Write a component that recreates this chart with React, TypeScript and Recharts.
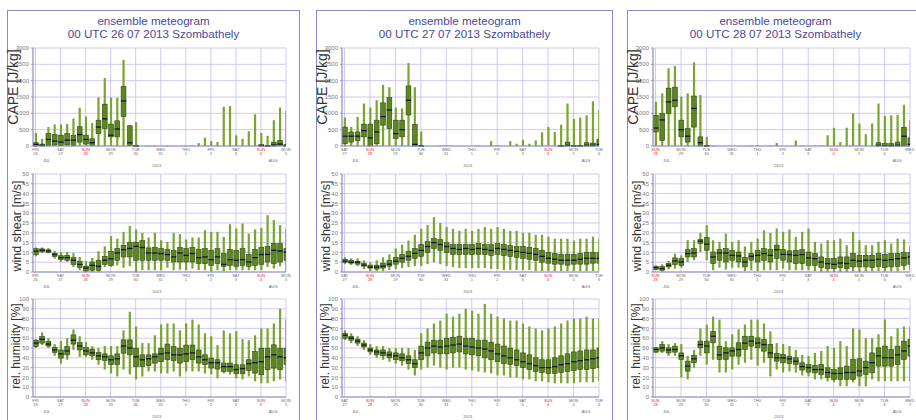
import { ComposedChart, Bar, XAxis, YAxis, CartesianGrid } from 'recharts';

// one box per 6-hourly step: [min, q1, median, q3, max]
type Box = [number, number, number, number, number];

const TITLE = 'ensemble meteogram';
const RUNS = ['00 UTC 26 07 2013 Szombathely', '00 UTC 27 07 2013 Szombathely', '00 UTC 28 07 2013 Szombathely'];

const DAY_STEPS = [0, 4, 8, 12, 16, 20, 24, 28, 32, 36, 40];
const WEEKDAYS_26 = ['FRI', 'SAT', 'SUN', 'MON', 'TUE', 'WED', 'THU', 'FRI', 'SAT', 'SUN', 'MON'];
const DATES_26 = ['26', '27', '28', '29', '30', '31', '1', '2', '3', '4', '5'];
const WEEKDAYS_27 = ['SAT', 'SUN', 'MON', 'TUE', 'WED', 'THU', 'FRI', 'SAT', 'SUN', 'MON', 'TUE'];
const DATES_27 = ['27', '28', '29', '30', '31', '1', '2', '3', '4', '5', '6'];
const WEEKDAYS_28 = ['SUN', 'MON', 'TUE', 'WED', 'THU', 'FRI', 'SAT', 'SUN', 'MON', 'TUE', 'WED'];
const DATES_28 = ['28', '29', '30', '31', '1', '2', '3', '4', '5', '6', '7'];

const CAPE_TICKS = [0, 500, 1000, 1500, 2000, 2500, 3000];
const WIND_TICKS = [0, 5, 10, 15, 20, 25, 30, 35, 40, 45, 50];
const RH_TICKS = [0, 10, 20, 30, 40, 50, 60, 70, 80, 90, 100];

const cape26: Box[] = [
  [0, 0, 50, 100, 400], [0, 0, 20, 60, 220], [0, 20, 200, 380, 580], [0, 30, 150, 350, 660],
  [0, 20, 120, 330, 660], [0, 30, 180, 380, 670], [0, 20, 180, 330, 840], [0, 120, 350, 590, 1170],
  [0, 60, 200, 330, 900], [0, 20, 100, 220, 700], [0, 380, 580, 790, 1490], [0, 530, 830, 1280, 2080],
  [0, 280, 330, 670, 1480], [0, 280, 520, 770, 1480], [0, 900, 1380, 1820, 2640], [0, 20, 100, 620, 640],
  [0, 0, 0, 20, 730], [0, 0, 0, 0, 0], [0, 0, 0, 0, 10], [0, 0, 0, 0, 10],
  [0, 0, 0, 0, 0], [0, 0, 0, 0, 10], [0, 0, 0, 0, 0], [0, 0, 0, 0, 0],
  [0, 0, 0, 0, 10], [0, 0, 0, 0, 20], [0, 0, 0, 0, 90], [0, 0, 0, 0, 250],
  [0, 0, 0, 0, 150], [0, 0, 0, 0, 120], [0, 0, 0, 0, 1200], [0, 0, 0, 0, 1220],
  [0, 0, 0, 0, 330], [0, 0, 0, 0, 220], [0, 0, 0, 0, 450], [0, 0, 0, 0, 970],
  [0, 0, 10, 40, 400], [0, 0, 0, 10, 310], [0, 0, 30, 120, 790], [0, 10, 60, 170, 1180],
  [0, 0, 0, 50, 1070],
];

const wind26: Box[] = [
  [8, 9, 10.6, 11.9, 12.5], [9.7, 10.3, 11.1, 11.8, 12.5], [9.5, 10, 10.7, 11.3, 12.2], [6.8, 8, 8.9, 9.6, 10.8],
  [5.1, 6.3, 7.3, 8.3, 10.2], [5.1, 6, 7.3, 8.5, 10.2], [2.6, 3.9, 6, 7.3, 9.7], [0.9, 2.2, 3.9, 5.5, 7.7],
  [0, 0.5, 2, 3, 5.5], [0, 0.9, 3.4, 5.1, 7.2], [0, 0.9, 2.9, 6, 10.6], [2.6, 3.9, 6, 8, 13.1],
  [2.6, 3.4, 6.7, 10.6, 18.3], [3.4, 6, 9.7, 11.9, 17], [2.2, 7.7, 11.4, 13.6, 20.5], [3, 7.7, 12, 15.2, 23.4],
  [0, 6, 13.1, 15.2, 21.7], [0.9, 6, 12.5, 16, 20], [0.9, 6, 9.7, 12.3, 17.6], [0.9, 6, 9.7, 12.5, 20],
  [0.9, 6, 9.4, 12, 16.2], [2.2, 6, 8.9, 11.4, 15.4], [0.9, 5.1, 7.7, 11.1, 20], [1.2, 5.1, 9.7, 12.5, 19.3],
  [0.9, 5.1, 8.5, 12, 16.6], [1.7, 5.1, 9.4, 12.5, 17.6], [0.9, 4.3, 7.3, 11.4, 17.6], [0.9, 4.3, 7.7, 11.9, 21.3],
  [0.3, 3.4, 6.3, 11.1, 20.5], [0.9, 4.3, 7.7, 11.9, 20.5], [0.3, 2.9, 3.9, 9.4, 17.9], [0.9, 3.4, 6.3, 11.4, 24.4],
  [0.9, 2.9, 6, 11.1, 22.2], [0.9, 3.4, 6.3, 11.9, 24.7], [0.9, 2.9, 5.1, 8.9, 19.6], [0.9, 3.4, 7.3, 11.4, 21.7],
  [0.9, 3.9, 8.9, 12.5, 22.5], [2.6, 5.1, 9, 13.1, 29], [1.7, 4.3, 11.1, 14.5, 26.5], [2.9, 5.1, 10.7, 14.5, 23.9],
  [0, 6, 10.2, 12, 22],
];

const rh26: Box[] = [
  [50, 51.5, 55, 58, 59], [53, 55, 59, 61.7, 66], [50, 52, 54, 56.6, 60], [42, 45.4, 48, 50.5, 54],
  [34, 39.7, 44, 48, 57], [38, 43, 47, 51.5, 60], [48, 54, 58, 63.4, 69], [41, 48, 52, 55.6, 62],
  [41, 43, 47, 50.5, 56], [38, 42, 45, 48.8, 52], [33, 38, 42, 45.4, 50], [28, 37.3, 41, 44, 52],
  [24, 33, 38, 42, 52], [21, 33, 39, 44, 52], [28, 44.7, 52, 58.3, 68], [23, 43, 50, 58.3, 87],
  [18, 31, 41, 49.8, 72], [21, 31, 38, 43, 55], [26, 32, 39, 43, 55], [26, 34.6, 41, 44, 63],
  [24, 36, 44, 49.8, 74], [24, 38, 45, 54, 75], [26, 37, 43, 51.5, 75], [21, 34.6, 43, 49.8, 68],
  [26, 36, 44, 53, 75], [26, 38, 45, 53, 79], [26, 34.6, 41, 48, 74], [24, 33, 38, 43, 65],
  [23, 29.5, 35, 39.7, 62], [19, 28.5, 35, 38, 53], [24, 26, 31, 34.6, 68], [23, 26, 31, 34.6, 65],
  [19, 23.7, 28, 32.9, 67], [18, 23.7, 29, 32.9, 59], [21, 27, 34, 38, 58], [16, 24.4, 35, 46.4, 63],
  [14, 22.7, 36, 49.8, 70], [14, 27.8, 41, 49.8, 70], [16, 29.5, 43, 53.2, 75], [18, 27.8, 41, 49.8, 90],
  [16, 33, 40, 49.8, 79],
];

const cape27: Box[] = [
  [0, 70, 300, 580, 870], [0, 120, 300, 430, 585], [0, 170, 300, 430, 890], [0, 280, 470, 670, 1300],
  [0, 0, 250, 670, 1180], [0, 70, 430, 790, 1400], [0, 640, 900, 1320, 1870], [0, 530, 1100, 1480, 1800],
  [0, 225, 380, 790, 1180], [0, 280, 500, 790, 1150], [0, 950, 1400, 1840, 2540], [0, 0, 50, 660, 1800],
  [0, 0, 0, 20, 440], [0, 0, 0, 0, 0], [0, 0, 0, 0, 0], [0, 0, 0, 0, 15],
  [0, 0, 0, 0, 20], [0, 0, 0, 0, 0], [0, 0, 0, 0, 0], [0, 0, 0, 0, 0],
  [0, 0, 0, 0, 0], [0, 0, 0, 0, 10], [0, 0, 0, 0, 0], [0, 0, 0, 0, 150],
  [0, 0, 0, 0, 20], [0, 0, 0, 0, 0], [0, 0, 0, 0, 150], [0, 0, 0, 0, 70],
  [0, 0, 0, 0, 190], [0, 0, 0, 0, 70], [0, 0, 0, 0, 170], [0, 0, 0, 0, 420],
  [0, 0, 0, 0, 580], [0, 0, 0, 0, 430], [0, 0, 0, 10, 650], [0, 0, 20, 120, 1300],
  [0, 0, 0, 20, 830], [0, 0, 0, 20, 870], [0, 0, 20, 100, 940], [0, 0, 20, 90, 1370],
  [0, 0, 50, 200, 1100],
];

const wind27: Box[] = [
  [4, 5, 5.5, 6.5, 7.5], [3.5, 4.5, 5, 6, 7], [3, 4, 5, 5.5, 7], [1.5, 3, 3.5, 4.5, 6],
  [0.5, 2, 2.5, 3.5, 5], [0.5, 1.5, 2.5, 3.5, 6], [0.5, 2, 3, 4.5, 7.5], [1, 3, 4, 6, 9],
  [1.5, 4, 5.5, 7.5, 12], [2, 5, 7, 9, 14], [2.5, 6, 8, 10.5, 16], [3, 7, 9.5, 12, 19],
  [3, 8, 11, 14, 22], [4, 10, 13, 15.5, 24], [5, 12, 15, 17, 28], [4, 11, 14, 16.5, 25],
  [3, 10, 13, 15, 23], [2.5, 9, 12, 14, 22], [2, 9, 11.5, 14, 21], [2, 9, 12, 14, 22],
  [2, 9, 11.5, 14, 21], [2, 9, 12, 14.5, 22], [2, 9, 11.5, 14, 23], [1.5, 8.5, 11, 14, 22],
  [1.5, 9, 12, 14.5, 23], [1, 8.5, 11.5, 14, 22], [1, 8, 11, 13.5, 21], [1, 7.5, 10.5, 13, 21],
  [1, 7, 10, 13, 20], [1, 6.5, 9.5, 12.5, 20], [0.5, 6, 9, 12, 19], [0.5, 5, 8, 11, 19],
  [0.5, 4.5, 7, 10, 18], [0.5, 4, 6.5, 9.5, 17], [0.5, 4, 6, 9, 17], [0.5, 3.5, 6, 9, 17],
  [0.5, 4, 6, 9, 16], [0.5, 4, 6.5, 9.5, 17], [0.5, 4, 7, 10, 17], [0.5, 4.5, 7, 10, 18],
  [0.5, 4.5, 7, 10, 17],
];

const rh27: Box[] = [
  [58, 60, 63, 65, 68], [55, 58, 60, 62, 65], [52, 55, 57, 59, 62], [48, 51, 53, 55, 58],
  [43, 46, 48, 50, 54], [40, 43, 46, 48, 52], [38, 42, 45, 48, 52], [36, 40, 43, 46, 50],
  [34, 38, 42, 45, 50], [32, 37, 40, 44, 50], [28, 34, 38, 42, 50], [22, 30, 34, 38, 48],
  [28, 38, 45, 52, 65], [30, 42, 50, 56, 70], [32, 45, 52, 58, 75], [30, 44, 51, 58, 78],
  [28, 44, 52, 60, 85], [30, 45, 53, 61, 82], [30, 46, 54, 62, 85], [28, 44, 52, 60, 90],
  [27, 43, 51, 60, 88], [26, 42, 50, 58, 85], [25, 40, 49, 58, 95], [24, 38, 47, 56, 85],
  [22, 36, 44, 54, 82], [22, 34, 42, 52, 80], [20, 33, 40, 50, 78], [20, 32, 38, 48, 78],
  [18, 30, 36, 45, 75], [18, 28, 34, 43, 72], [16, 26, 32, 40, 70], [16, 25, 30, 38, 68],
  [15, 24, 30, 38, 70], [14, 24, 31, 40, 72], [14, 25, 33, 42, 75], [14, 26, 34, 44, 78],
  [14, 27, 36, 46, 80], [15, 28, 37, 47, 80], [15, 28, 38, 48, 82], [15, 29, 39, 48, 80],
  [16, 30, 40, 50, 80],
];

const cape28: Box[] = [
  [0, 430, 550, 940, 1350], [0, 170, 800, 1000, 1610], [0, 1000, 1350, 1770, 2380], [0, 1200, 1400, 1800, 2450],
  [0, 280, 500, 790, 1510], [0, 120, 300, 530, 1610], [0, 580, 1150, 1530, 2560], [0, 0, 100, 280, 1560],
  [0, 0, 0, 10, 280], [0, 0, 0, 0, 15], [0, 0, 0, 0, 0], [0, 0, 0, 0, 0],
  [0, 0, 0, 0, 0], [0, 0, 0, 0, 0], [0, 0, 0, 0, 0], [0, 0, 0, 0, 15],
  [0, 0, 0, 0, 30], [0, 0, 0, 0, 0], [0, 0, 0, 0, 20], [0, 0, 0, 0, 90],
  [0, 0, 0, 0, 0], [0, 0, 0, 0, 0], [0, 0, 0, 0, 170], [0, 0, 0, 0, 10],
  [0, 0, 0, 0, 0], [0, 0, 0, 0, 10], [0, 0, 0, 0, 30], [0, 0, 0, 0, 330],
  [0, 0, 0, 0, 555], [0, 0, 0, 0, 120], [0, 0, 0, 0, 560], [0, 0, 0, 0, 1000],
  [0, 0, 0, 0, 690], [0, 0, 0, 0, 360], [0, 0, 0, 0, 690], [0, 0, 20, 100, 1300],
  [0, 0, 10, 80, 920], [0, 0, 10, 80, 940], [0, 0, 20, 120, 950], [0, 0, 300, 570, 1260],
  [0, 0, 50, 250, 800],
];

const wind28: Box[] = [
  [0.9, 1.4, 2.2, 2.9, 3.4], [0.3, 0.9, 1.7, 2.9, 3.9], [1.4, 2.6, 3.4, 4.3, 5.6], [1.7, 3.9, 5.6, 7.2, 9.4],
  [2.2, 3.4, 5.1, 6.8, 8.5], [5.1, 7.7, 9.4, 11.4, 16.2], [6, 7.7, 9.7, 11.9, 16.2], [10.2, 14.5, 15.7, 16.6, 20],
  [6, 11.1, 14.2, 17.6, 23.9], [0.9, 4.3, 7.7, 10.2, 16.2], [2.2, 6, 9.7, 11.4, 15.4], [1.2, 5.1, 9.7, 11.9, 19.6],
  [2.2, 6, 8.5, 11.1, 15.4], [2.2, 5.1, 8.2, 10.2, 16.2], [0.5, 2.6, 5.1, 7.3, 13.1], [0.9, 6, 8, 9.4, 15.4],
  [0.5, 5.1, 8.5, 11.1, 17], [0.9, 6, 9.4, 11.9, 21.3], [0.9, 5.1, 8.5, 11.4, 20], [0.9, 6.8, 11.4, 13.7, 22.2],
  [1.7, 6, 9, 11.4, 20.5], [0.9, 5.1, 8.9, 10.8, 21.7], [0.9, 4.3, 8.5, 11.1, 17.9], [0.9, 4.3, 8.9, 11.4, 20.5],
  [0.9, 3.4, 7.2, 10.2, 22.2], [0.5, 3.4, 6.8, 9.4, 15.4], [0, 2.2, 5.1, 7.7, 14.5], [0, 1.7, 4.3, 6.8, 16.2],
  [0, 1.7, 3.9, 6.8, 16.2], [0, 2.2, 4.6, 7.7, 17], [0, 1.7, 4.3, 7.7, 13.7], [0.3, 2.6, 6, 9.4, 20.5],
  [0, 2.6, 5.6, 8.5, 16.2], [0.3, 2.6, 6, 8.5, 13.7], [0.3, 2.2, 6, 8.5, 13.7], [0.5, 2.9, 6.5, 9.4, 15.4],
  [0.3, 2.2, 6, 9, 16.2], [0.3, 2.6, 6.3, 9.4, 14.5], [0.3, 2.9, 6.8, 9.4, 17], [0.9, 3.4, 7.2, 9.9, 16.6],
  [0.9, 3.9, 7.7, 9.9, 13.1],
];

const rh28: Box[] = [
  [45, 45.8, 48.5, 50.2, 51], [45, 46.8, 50, 53.6, 57], [42, 45, 48, 50.2, 54], [42, 45.8, 48.5, 51.9, 55],
  [20, 38.3, 42, 45, 54], [18, 26.4, 31.5, 36.6, 42], [30, 35, 39, 42.4, 48], [42, 50.2, 53.5, 57, 70],
  [33, 45, 52, 57, 74], [38, 55.3, 62, 67, 82], [25, 38.3, 43, 51.9, 79], [25, 38.3, 45, 50.2, 57],
  [28, 41.7, 47, 50.2, 64], [33, 41.7, 48.5, 55.3, 69], [35, 48.5, 55, 62, 74], [38, 51.9, 57, 62, 79],
  [32, 50.2, 55, 60.3, 79], [35, 46.8, 53.5, 58.6, 75], [21, 40, 45, 53.6, 67], [28, 36.6, 40, 44.4, 55],
  [25, 34.9, 40, 43.4, 54], [26, 34.2, 39, 41.7, 52], [25, 33.2, 36.5, 40, 48], [22, 27.5, 31, 34.9, 43],
  [21, 25.4, 30, 33.2, 42], [18, 24.7, 28, 32.2, 45], [18, 23, 28, 33.2, 47], [16, 19.7, 25, 29.8, 52],
  [15, 18, 24, 28.1, 50], [11, 18, 24, 29.8, 57], [11, 18, 25, 31.5, 52], [15, 18, 25, 38.3, 70],
  [11, 21.4, 26.5, 39, 69], [11, 23, 30, 36.6, 60], [18, 24.7, 35, 45, 60], [16, 31.5, 42, 50.2, 64],
  [16, 31.5, 40, 51.9, 79], [16, 31.5, 40, 48.5, 62], [16, 33.2, 43, 51.9, 70], [16, 38.3, 47, 57, 72],
  [16, 41.7, 52, 58.6, 72],
];

const toRows = (boxes: Box[]) =>
  boxes.map(([lo, q1, med, q3, hi], step) => ({ step, range: [lo, hi], q1, med, q3 }));

function BoxShape(props: any) {
  const { x, y, width, height, payload } = props;
  if (x == null || !payload) return null;
  const [lo, hi] = payload.range as [number, number];
  const span = hi - lo;
  if (span <= 0) return null;
  const at = (v: number) => y + (height * (hi - v)) / span;
  const cx = x + width / 2;
  const wTop = at(hi);
  const wBot = at(lo);
  const bTop = at(payload.q3);
  const bBot = at(payload.q1);
  const hasBox = payload.q3 > payload.q1;
  return (
    <g>
      <rect x={cx - 1.1} y={Math.min(wTop, wBot)} width={2.2} height={Math.max(Math.abs(wBot - wTop), 0.6)} fill="#7aa62b" />
      {hasBox && (
        <rect x={cx - 2.4} y={Math.min(bTop, bBot)} width={4.8} height={Math.abs(bBot - bTop)}
          fill="#5b871d" stroke="#35461d" strokeWidth={0.6} />
      )}
      {hasBox && <line x1={cx - 2.7} x2={cx + 2.7} y1={at(payload.med)} y2={at(payload.med)} stroke="#16162e" strokeWidth={1.3} />}
    </g>
  );
}

function DayTick(props: any) {
  const { x, y, index, weekdays, dates } = props;
  const color = weekdays[index] === 'SUN' ? '#e0282a' : '#666';
  return (
    <g fontSize={4} textAnchor="middle">
      <text x={x} y={y + 5} fill={color}>{weekdays[index]}</text>
      <text x={x} y={y + 9} fill={color}>{dates[index]}</text>
      {index === 0 && <text x={x + 11} y={y + 15.5} fill="#666">JUL</text>}
      {index === weekdays.length - 1 && <text x={x - 13} y={y + 15.5} fill="#666">AUG</text>}
      {index === 5 && <text x={x - 4} y={y + 20.5} fill="#666">2013</text>}
    </g>
  );
}

function BoxChart({ boxes, yTicks, plotW, top, weekdays, dates }: any) {
  const rows = toRows(boxes);
  const yMax = yTicks[yTicks.length - 1];
  return (
    <div style={{ position: 'absolute', left: 0, top }}>
      <ComposedChart width={25 + plotW + 5} height={126} data={rows} margin={{ top: 4, right: 5, bottom: 0, left: 0 }}>
        <CartesianGrid stroke="#c3bcef" strokeWidth={0.8} />
        <XAxis type="number" dataKey="step" domain={[-0.4, 40]} ticks={DAY_STEPS} interval={0} allowDataOverflow
          height={24} tickSize={0} tickMargin={0} axisLine={{ stroke: '#8f89c9' }}
          tick={(p: any) => <DayTick {...p} weekdays={weekdays} dates={dates} />} />
        <YAxis type="number" domain={[0, yMax]} ticks={yTicks} interval={0} width={25} tickSize={2}
          tick={{ fontSize: 6, fill: '#7a7a7a' }} axisLine={{ stroke: '#8f89c9' }} tickLine={{ stroke: '#999' }} />
        <Bar dataKey="range" shape={BoxShape} barSize={5} isAnimationActive={false} />
      </ComposedChart>
    </div>
  );
}

function YLabel({ text, cx, cy, size }: { text: string; cx: number; cy: number; size: number }) {
  return (
    <div style={{
      position: 'absolute', left: cx - 60, top: cy - 8, width: 120, height: 16, lineHeight: '16px',
      textAlign: 'center', transform: 'rotate(-90deg)', fontSize: size, color: '#333', whiteSpace: 'nowrap',
    }}>{text}</div>
  );
}

function Panel({ left, frameW, plotW, run, weekdays, dates, cape, wind, rh }: any) {
  return (
    <div style={{ position: 'absolute', left, top: 10, width: frameW, height: 440, border: '1px solid #8e88cc', boxSizing: 'border-box' }}>
      <div style={{ position: 'absolute', top: 3, left: 0, right: 0, textAlign: 'center', color: '#4a489a', fontSize: 11.6, lineHeight: '13px' }}>
        <div>{TITLE}</div>
        <div>{run}</div>
      </div>
      <YLabel text="CAPE [J/kg]" cx={4.5} cy={76} size={14} />
      <YLabel text="wind shear [m/s]" cx={9} cy={215} size={12.5} />
      <YLabel text="rel. humidity [%]" cx={8} cy={335} size={12} />
      <BoxChart boxes={cape} yTicks={CAPE_TICKS} plotW={plotW} top={33} weekdays={weekdays} dates={dates} />
      <BoxChart boxes={wind} yTicks={WIND_TICKS} plotW={plotW} top={159} weekdays={weekdays} dates={dates} />
      <BoxChart boxes={rh} yTicks={RH_TICKS} plotW={plotW} top={284} weekdays={weekdays} dates={dates} />
    </div>
  );
}

export default function App() {
  return (
    <div style={{
      position: 'fixed', left: 0, top: 0, width: 916, height: 420, overflow: 'hidden', background: '#fff',
      fontFamily: '"Liberation Sans", Arial, sans-serif',
    }}>
      <Panel left={7} frameW={293} plotW={253} run={RUNS[0]} weekdays={WEEKDAYS_26} dates={DATES_26} cape={cape26} wind={wind26} rh={rh26} />
      <Panel left={316} frameW={297} plotW={257} run={RUNS[1]} weekdays={WEEKDAYS_27} dates={DATES_27} cape={cape27} wind={wind27} rh={rh27} />
      <Panel left={627} frameW={297} plotW={257} run={RUNS[2]} weekdays={WEEKDAYS_28} dates={DATES_28} cape={cape28} wind={wind28} rh={rh28} />
    </div>
  );
}
